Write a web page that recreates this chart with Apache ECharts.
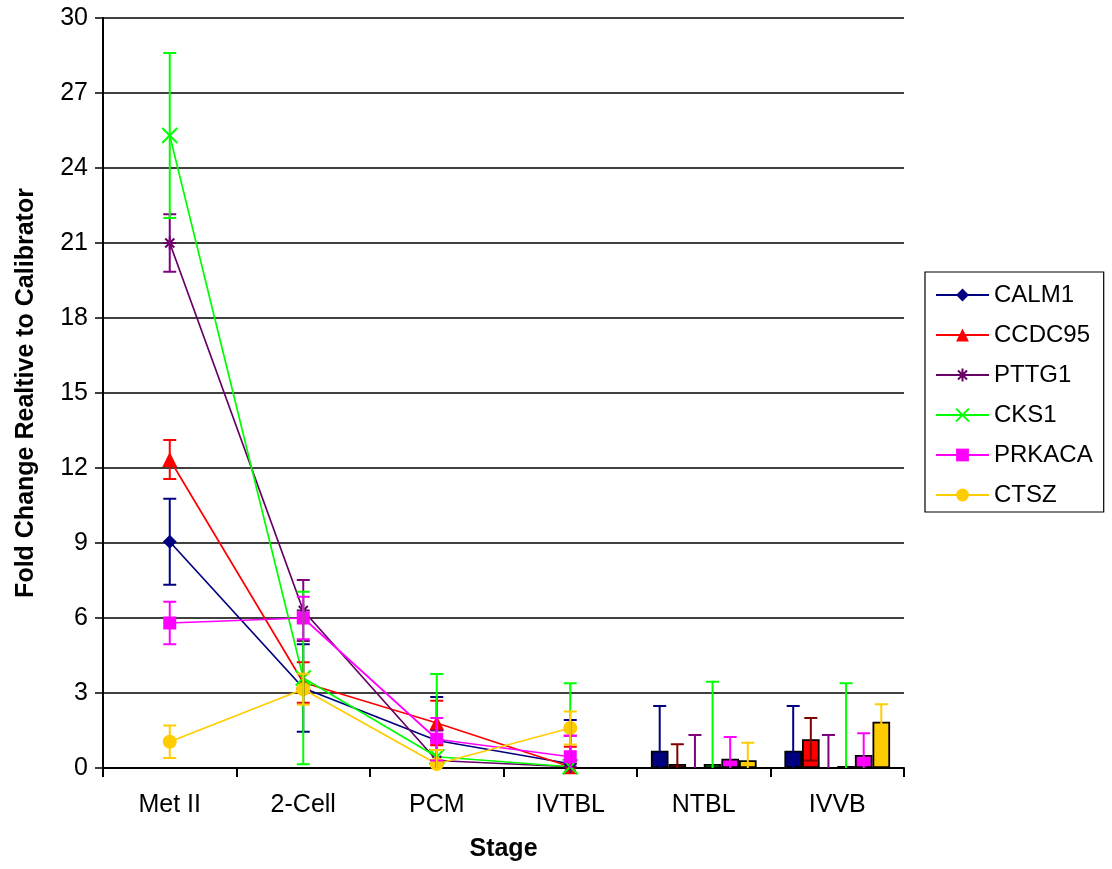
<!DOCTYPE html>
<html>
<head>
<meta charset="utf-8">
<script src="https://cdn.jsdelivr.net/npm/echarts@6/dist/echarts.min.js"></script>
<style>html,body{margin:0;padding:0;background:#fff}#c{width:1112px;height:869px}</style>
</head>
<body>
<div id="c"></div>
<script>
const categories = ['Met II', '2-Cell', 'PCM', 'IVTBL', 'NTBL', 'IVVB'];
const genes = ['CALM1', 'CCDC95', 'PTTG1', 'CKS1', 'PRKACA', 'CTSZ'];
// values per stage (first four drawn as lines, last two as bars)
const CALM1 = [9.05, 3.2, 1.1, 0.17, 0.69, 0.69];
const CCDC95 = [12.34, 3.42, 1.8, 0.05, 0.16, 1.15];
const PTTG1 = [21.0, 6.3, 0.3, 0.05, 0, 0];
const CKS1 = [25.3, 3.6, 0.45, 0.05, 0.16, 0.08];
const PRKACA = [5.8, 6.0, 1.15, 0.45, 0.37, 0.52];
const CTSZ = [1.05, 3.15, 0.16, 1.6, 0.31, 1.85];
// error (±) per stage
const CALM1_err = [1.72, 1.75, 1.74, 1.75, 1.79, 1.79];
const CCDC95_err = [0.78, 0.81, 0.89, 0.8, 0.79, 0.85];
const PTTG1_err = [1.15, 1.22, 1.2, 1.24, 1.32, 1.32];
const CKS1_err = [3.3, 3.45, 3.31, 3.34, 3.29, 3.31];
const PRKACA_err = [0.85, 0.85, 0.85, 0.84, 0.87, 0.87];
const CTSZ_err = [0.65, 0.62, 0.56, 0.66, 0.7, 0.7];
const yTicks = [0, 3, 6, 9, 12, 15, 18, 21, 24, 27, 30];

const values = [CALM1, CCDC95, PTTG1, CKS1, PRKACA, CTSZ];
const errs = [CALM1_err, CCDC95_err, PTTG1_err, CKS1_err, PRKACA_err, CTSZ_err];
const lineColors = ['#000080', '#FF0000', '#660066', '#00FF00', '#FF00FF', '#FFCC00'];
const barColors = ['#000080', '#FF0000', '#800080', '#00FF00', '#FF00FF', '#FFCC00'];
const errLineColors = ['#000080', '#FF0000', '#800080', '#00FF00', '#FF00FF', '#FFCC00'];
const errBarColors = ['#000080', '#800000', '#800080', '#00FF00', '#FF00FF', '#FFCC00'];
const symbols = [
  'diamond', 'triangle',
  'path://M0,5 L10,5 M5,0 L5,10 M1.5,1.5 L8.5,8.5 M8.5,1.5 L1.5,8.5',
  'path://M0,0 L10,10 M10,0 L0,10',
  'rect', 'circle'
];
const symbolSizes = [14, 15, 13, 15, 13, 14];
const nLine = 4;
const BAR_FRAC = 0.132;
const FONT = 'Liberation Sans, Arial, sans-serif';

const series = [];
genes.forEach((g, i) => {
  const stroked = i === 2 || i === 3;
  series.push({
    name: g, type: 'line', z: 3,
    data: values[i].map((v, k) => k < nLine ? v : '-'),
    symbol: symbols[i], symbolSize: symbolSizes[i], showAllSymbol: true,
    lineStyle: { color: lineColors[i], width: 1.7 },
    itemStyle: stroked ? { color: 'rgba(0,0,0,0)', borderColor: lineColors[i], borderWidth: 2 }
                       : { color: lineColors[i], borderWidth: 0 },
    emphasis: { disabled: true }
  });
});
genes.forEach((g, i) => {
  series.push({
    name: g, type: 'bar', z: 2,
    data: values[i].map((v, k) => k >= nLine ? v : '-'),
    barWidth: (BAR_FRAC * 100) + '%', barGap: '0%',
    itemStyle: { color: barColors[i], borderColor: '#000', borderWidth: 1.8 },
    emphasis: { disabled: true }
  });
});
genes.forEach((g, i) => {
  const data = values[i].map((v, k) => [k, Math.max(0, v - errs[i][k]), v + errs[i][k], k >= nLine ? 1 : 0, v - errs[i][k] < 0 ? 1 : 0]);
  series.push({
    name: g + ' error', type: 'custom', z: 5,
    data: data,
    renderItem: function (params, api) {
      const k = api.value(0), lo = api.value(1), hi = api.value(2), isBar = api.value(3), clipped = api.value(4);
      const top = api.coord([k, hi]);
      const bot = api.coord([k, lo]);
      let cx = top[0];
      if (isBar) cx += (i - 2.5) * api.size([1, 0])[0] * BAR_FRAC;
      const color = isBar ? errBarColors[i] : errLineColors[i];
      const half = 6.5;
      const style = { stroke: color, lineWidth: 2, fill: null };
      const children = [
        { type: 'line', shape: { x1: cx, y1: top[1], x2: cx, y2: bot[1] }, style: style },
        { type: 'line', shape: { x1: cx - half, y1: top[1], x2: cx + half, y2: top[1] }, style: style }
      ];
      if (!clipped) children.push({ type: 'line', shape: { x1: cx - half, y1: bot[1], x2: cx + half, y2: bot[1] }, style: style });
      return { type: 'group', children: children };
    },
    silent: true
  });
});

const chart = echarts.init(document.getElementById('c'), null, { renderer: 'canvas' });
chart.setOption({
  animation: false,
  backgroundColor: '#fff',
  textStyle: { fontFamily: FONT },
  grid: { left: 103, right: 208, top: 18, bottom: 101, containLabel: false },
  legend: {
    data: genes, orient: 'vertical', left: 925, top: 272,
    padding: [11, 11, 5, 10], itemGap: 16, itemWidth: 53, itemHeight: 16, itemTextGap: 8,
    borderColor: '#000', borderWidth: 1.2,
    textStyle: { fontSize: 24, color: '#000', fontFamily: FONT }
  },
  xAxis: {
    type: 'category', data: categories, boundaryGap: true,
    name: 'Stage', nameLocation: 'middle', nameGap: 69,
    nameTextStyle: { fontSize: 25, fontWeight: 'bold', color: '#000', fontFamily: FONT },
    axisLine: { lineStyle: { color: '#000', width: 2 } },
    axisTick: { show: true, length: 9, lineStyle: { color: '#000', width: 2 } },
    axisLabel: { fontSize: 25, color: '#000', margin: 25, fontFamily: FONT },
    splitLine: { show: false }
  },
  yAxis: {
    type: 'value', min: 0, max: 30, interval: 3,
    name: 'Fold Change Realtive to Calibrator', nameLocation: 'middle', nameGap: 64, nameRotate: 90,
    nameTextStyle: { fontSize: 25, fontWeight: 'bold', color: '#000', fontFamily: FONT },
    axisLine: { show: true, lineStyle: { color: '#000', width: 2 } },
    axisTick: { show: true, length: 8, lineStyle: { color: '#000', width: 1.5 } },
    axisLabel: { fontSize: 25, color: '#000', margin: 15, fontFamily: FONT, formatter: v => yTicks.includes(v) ? String(v) : '' },
    splitLine: { show: true, lineStyle: { color: '#000', width: 1.6 } }
  },
  series: series
});
</script>
</body>
</html>
